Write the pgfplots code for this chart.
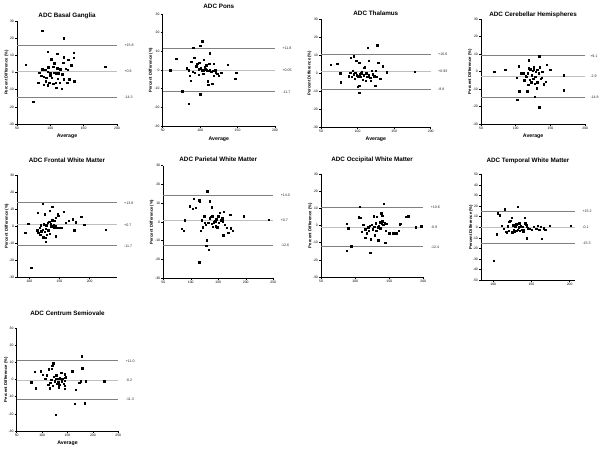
\documentclass[border=0pt]{standalone}
\usepackage{fontspec}
\setmainfont{Liberation Sans}
\usepackage{pgfplots}
\pgfplotsset{compat=1.18}

\pgfplotsset{
  ba/.style={scale only axis, anchor=south west, clip=false,
    axis x line*=bottom, axis y line*=left,
    axis line style={black, line width=0.8pt},
    tick align=outside, major tick length=2pt, tick style={black, line width=0.6pt},
    ymin=-30, ymax=30, ytick={-30,-20,...,30},
    ticklabel style={font=\fontsize{3.4}{4}\selectfont, inner sep=1pt},
    /pgf/number format/assume math mode=true,
    title style={font=\bfseries\fontsize{6.3}{7}\selectfont, at={(0.5,1)}, anchor=center},
    ylabel={Percent Difference (\%)},
    ylabel style={font=\bfseries\fontsize{4.2}{5}\selectfont, at={(axis description cs:-0.105,0.5)}, anchor=center},
    xlabel style={font=\bfseries\fontsize{5.2}{6}\selectfont, at={(axis description cs:0.5,-0.115)}, anchor=center},
  },
  pts/.style={only marks, mark=square*, mark size=0.7pt, black},
  lim/.style={black!50, line width=0.8pt},
  mn/.style={black!25, line width=0.8pt},
}
\tikzset{lbl/.style={font=\fontsize{3.6}{4}\selectfont, anchor=west, xshift=4pt, text=black!85}}

\begin{document}
\begin{tikzpicture}
\path[use as bounding box] (0,0) rectangle (600pt,-448pt);

% ---- row 1 ----
\begin{axis}[ba, at={(17pt,-124pt)}, width=100pt, height=103pt,
  xmin=50, xmax=200, xtick={50,100,150,200},
  title={ADC Basal Ganglia}, title style={yshift=-0.5pt}, xlabel={Average}]
\addplot[lim] coordinates {(50,15.8) (200,15.8)};
\addplot[mn] coordinates {(50,0.6) (200,0.6)};
\addplot[lim] coordinates {(50,-14.3) (200,-14.3)};
\addplot[pts] coordinates {
(88,24.5) (120,20) (63,4.5) (96,12.2) (182,3.3) (74,-17) (135,11.5) (135,8.8) (110,11) (120,9)
(127,7.5) (101,7.8) (106,5.5) (119,5.8) (131,4.3) (97,3) (104,3.5) (110,2.5) (115,2) (123,2.3)
(126,1.5) (88,2) (92,1.5) (96,0.5) (100,-0.5) (105,0) (108,-0.5) (112,-0.5) (118,-1) (83,0)
(86,-2) (90,-2.5) (94,-3) (102,-3) (111,-3.5) (120,-4) (128,-4) (136,-5) (93,-5) (98,-6)
(104,-6.5) (108,-6) (114,-6) (125,-6) (82,-6) (90,-7) (96,-7.5) (109,-9) (117,-9.5) (100,-1.5)};
\node[lbl] at (axis cs:200,15.8) {+15.8};
\node[lbl] at (axis cs:200,0.6) {+0.6};
\node[lbl] at (axis cs:200,-14.3) {-14.3};
\end{axis}

\begin{axis}[ba, at={(162.7pt,-126pt)}, width=112.3pt, height=112pt,
  xmin=50, xmax=200, xtick={50,100,150,200},
  title={ADC Pons}, title style={yshift=1.5pt}, xlabel={Average}]
\addplot[lim] coordinates {(50,11.8) (200,11.8)};
\addplot[mn] coordinates {(50,0.05) (200,0.05)};
\addplot[lim] coordinates {(50,-11.7) (200,-11.7)};
\addplot[pts] coordinates {
(103,15.5) (91,12) (100,13) (68,6) (60,0) (113,9) (137,3) (148,-1.3) (147,-4.8) (76,-11.3)
(85,-18) (100,-13) (111,-8) (116,-7.3) (110,-6) (87,-5.8) (128,-1.6) (88,4.5) (92,6.5) (96,3.5)
(99,4) (105,5.5) (108,2.5) (112,3.5) (118,3.5) (82,1) (85,0) (90,-1) (95,2) (98,0.5)
(101,1) (103,0) (105,-0.5) (107,0.5) (109,0) (111,-0.5) (113,0.3) (115,-1) (117,-0.5) (120,0)
(123,-2) (125,-3) (118,-3) (104,-2) (98,-2.5) (93,-1.5) (86,-3) (121,-1.5) (106,1.5)};
\node[lbl] at (axis cs:200,11.8) {+11.8};
\node[lbl] at (axis cs:200,0.05) {+0.05};
\node[lbl] at (axis cs:200,-11.7) {-11.7};
\end{axis}

\begin{axis}[ba, at={(321pt,-127.3pt)}, width=109.7pt, height=108pt,
  xmin=50, xmax=200, xtick={50,100,150,200},
  title={ADC Thalamus}, title style={yshift=0.5pt}, xlabel={Average}]
\addplot[lim] coordinates {(50,10.6) (200,10.6)};
\addplot[mn] coordinates {(50,0.93) (200,0.93)};
\addplot[lim] coordinates {(50,-8.8) (200,-8.8)};
\addplot[pts] coordinates {
(127,15.7) (114,14.2) (63,4.8) (72,5.5) (91,8.6) (95,9.4) (98,7) (102,6) (115,7) (128,6)
(134,4) (139.5,0.6) (178,0.9) (76,0) (77,-5) (124,-6.8) (102,-7) (100,-7.4) (102,-10.8) (131,-3)
(88,-1.5) (90,0.5) (93,1.5) (95,-0.5) (97,0.5) (99,-1) (101,-1.5) (103,-0.5) (104,-2) (106,1)
(108,3) (110,3.5) (112,0) (113,-2) (115,-1) (117,-2.5) (119,1.5) (121,-0.5) (123,-1.5) (125,1.5)
(126,-2) (92,-2) (96,-3) (107,-3.5) (111,-4) (118,-4) (108,-1) (105,0)};
\node[lbl] at (axis cs:200,10.6) {+10.6};
\node[lbl] at (axis cs:200,0.93) {+0.93};
\node[lbl] at (axis cs:200,-8.8) {-8.8};
\end{axis}

\begin{axis}[ba, at={(481pt,-124pt)}, width=104.3pt, height=104.7pt,
  xmin=50, xmax=200, xtick={50,100,150,200},
  title={ADC Cerebellar Hemispheres}, title style={yshift=-2pt}, xlabel={Average}]
\addplot[lim] coordinates {(50,9.1) (200,9.1)};
\addplot[mn] coordinates {(50,-2.9) (200,-2.9)};
\addplot[lim] coordinates {(50,-14.8) (200,-14.8)};
\addplot[pts] coordinates {
(69,0) (85,1.2) (133.7,8.8) (119,6.5) (144.7,4) (149.5,1.2) (169,-2.1) (168.7,-10.6) (105,-11.2) (116.7,-11.2)
(127.6,-14.2) (102,-16) (133.7,-20.4) (140,-7.3) (143,-5.6) (127.6,-7) (130,-9.4) (104.5,3.5) (104.5,2.7) (107,-0.8)
(110.5,-0.8) (101,-3.3) (114,-2.5) (117,-1) (119,2) (121,1.5) (123,-2) (124,0.5) (126,1) (128,-3)
(129,0) (131,1) (133,-1) (134,2.5) (136,-4) (137,-3.5) (138,0) (120,-4.5) (122,-6) (125,-4)
(118,-7.5) (112,-5) (126,2.5) (131,-6) (116,-3)};
\node[lbl, xshift=-2.5pt] at (axis cs:200,9.1) {+9.1};
\node[lbl, xshift=-2.5pt] at (axis cs:200,-2.9) {-2.9};
\node[lbl, xshift=-2.5pt] at (axis cs:200,-14.8) {-14.8};
\end{axis}

% ---- row 2 ----
\begin{axis}[ba, at={(17.3pt,-277pt)}, width=99.4pt, height=102pt,
  xmin=80, xmax=245, xtick={100,150,200},
  title={ADC Frontal White Matter}, title style={yshift=8.5pt}]
\addplot[lim] coordinates {(80,13.6) (245,13.6)};
\addplot[mn] coordinates {(80,0.7) (245,0.7)};
\addplot[lim] coordinates {(80,-11.7) (245,-11.7)};
\addplot[pts] coordinates {
(103,-24.7) (93,-4.1) (98,1.2) (122.6,13.2) (137.6,11.3) (139,11.3) (133.7,9) (114,7.8) (125,6.9) (147,6.9)
(143.6,4.9) (172,4.1) (186,5.5) (176.5,2.2) (157,8.4) (174.6,-2.4) (191,0.6) (226.5,-2) (143.6,-5.9) (127.6,-9.2)
(123,-6.5) (146,-1) (150,-1) (135,1.2) (113,-2.5) (115,-4) (117,-1) (119,0.5) (120,-3) (122,-2)
(124,1) (125,-3.5) (127,-1.5) (128,0.5) (130,2) (131,-2.5) (133,2.5) (134,-4.5) (136,0) (138,3.5)
(140,0.5) (141,-1) (142,3) (144,0) (148,6) (153,-1) (160,2) (165,3) (118,-5) (126,-7)
(112,-2) (129,-5)};
\node[lbl] at (axis cs:245,13.6) {+13.6};
\node[lbl] at (axis cs:245,0.7) {+0.7};
\node[lbl] at (axis cs:245,-11.7) {-11.7};
\end{axis}

\begin{axis}[ba, at={(163.3pt,-278.3pt)}, width=110pt, height=112.6pt,
  xmin=50, xmax=250, xtick={50,100,150,200,250},
  title={ADC Parietal White Matter}, title style={yshift=0pt}]
\addplot[lim] coordinates {(50,14.0) (250,14.0)};
\addplot[mn] coordinates {(50,0.7) (250,0.7)};
\addplot[lim] coordinates {(50,-12.6) (250,-12.6)};
\addplot[pts] coordinates {
(129.7,16.4) (105.5,12.5) (115,11.6) (116,10.7) (134.5,11) (98,8.4) (103,7.1) (108.5,7.5) (137.6,7.9) (89,0.9)
(83,-3.6) (87,-4.6) (117.6,-4.5) (122,-2.7) (128.5,-9.8) (128,-12.5) (133,-14.8) (115,-21.4) (196,3.2) (242,1.3)
(172,4) (171,3.8) (160,5.4) (153,5) (159,-7.1) (168,-5.7) (173,-3.2) (176,-4.5) (145,-2.3) (148,-2.7)
(139,3) (136,2.7) (142,0) (144,0.5) (151,-0.4) (154,0.9) (124.6,3.2) (125.5,-0.4) (131.5,-0.4) (134.5,2.1)
(138,-1) (140,-2.5) (157,2) (162,-1.5) (120,1) (127,-1.5) (146,1.5) (150,3) (158,0.5) (165,-3)};
\node[lbl] at (axis cs:250,14.0) {+14.0};
\node[lbl] at (axis cs:250,0.7) {+0.7};
\node[lbl] at (axis cs:250,-12.6) {-12.6};
\end{axis}

\begin{axis}[ba, at={(321pt,-277pt)}, width=102.3pt, height=102.7pt,
  xmin=50, xmax=200, xtick={50,100,150,200},
  title={ADC Occipital White Matter}, title style={yshift=8.5pt}]
\addplot[lim] coordinates {(50,10.6) (200,10.6)};
\addplot[mn] coordinates {(50,-0.9) (200,-0.9)};
\addplot[lim] coordinates {(50,-12.4) (200,-12.4)};
\addplot[pts] coordinates {
(106.4,11.1) (142,12.7) (87.7,1) (90,-1.6) (94,-11.9) (87.7,-14.8) (122,-15.8) (144,-9.9) (134,-8.4) (123,-8)
(114.7,-7) (117,-4.5) (129,-5.5) (175,5.1) (177.6,5.6) (189,-1) (197,-0.4) (165,0.8) (166,1.2) (164,-3.1)
(160,-4.5) (156,-4.5) (150,-4.5) (146,1) (138,7.2) (140,5.8) (132,5.3) (127,5.5) (105,4.9) (108,4.7)
(112,0.5) (115,-2) (119,-1) (121,0) (124,0.5) (126,-2) (128,-0.5) (130,1.5) (133,-1) (135,0)
(136,2) (137,-1.5) (139,1) (140,2.5) (141,0.5) (143,1.5) (145,-3) (110,-3.5) (120,-3) (131,-3)};
\node[lbl] at (axis cs:200,10.6) {+10.6};
\node[lbl] at (axis cs:200,-0.9) {-0.9};
\node[lbl] at (axis cs:200,-12.4) {-12.4};
\end{axis}

\begin{axis}[ba, at={(481pt,-280.3pt)}, width=94pt, height=106pt,
  xmin=84, xmax=207, xtick={100,150,200},
  ymin=-50, ymax=50, ytick={-50,-40,...,50},
  title={ADC Temporal White Matter}, title style={yshift=7.5pt}]
\addplot[lim] coordinates {(84,15.2) (207,15.2)};
\addplot[mn] coordinates {(84,-0.1) (207,-0.1)};
\addplot[lim] coordinates {(84,-15.3) (207,-15.3)};
\addplot[pts] coordinates {
(100.9,-31.4) (105.6,13.2) (108.7,11.6) (115,17) (132,19.2) (104.3,-6.6) (144,-10.4) (163.5,-11) (174,1.3) (201,1.3)
(111,1.5) (114,-1.5) (116,-4) (118,-4.5) (119,1) (121,5.5) (122,6.5) (124,9) (126,2) (127,-2)
(128,-3.5) (129,0.5) (130,3) (131,-3) (132,-2.5) (133,0) (134,4) (135,-3) (136,1) (137,-2)
(138,0.5) (140,-2.5) (141,9) (142,4) (143,2.5) (144,1) (145,-1) (147,-1.5) (150,-2) (153,0.5)
(156,-1.5) (158,1.5) (160,-2) (162,0.5) (166,-1) (168,-2) (120,-3) (125,-4.5) (139,-4)};
\node[lbl] at (axis cs:207,15.2) {+15.2};
\node[lbl] at (axis cs:207,-0.1) {-0.1};
\node[lbl] at (axis cs:207,-15.3) {-15.3};
\end{axis}

% ---- row 3 ----
\begin{axis}[ba, at={(16.7pt,-431pt)}, width=101.6pt, height=102.7pt,
  xmin=50, xmax=250, xtick={50,100,150,200,250},
  title={ADC Centrum Semiovale}, title style={yshift=9pt}, xlabel={Average}]
\addplot[lim] coordinates {(50,11.0) (250,11.0)};
\addplot[mn] coordinates {(50,-0.2) (250,-0.2)};
\addplot[lim] coordinates {(50,-11.3) (250,-11.3)};
\addplot[pts] coordinates {
(177.5,13.6) (179,6.8) (122,9.7) (120,8) (119,6.4) (113.4,6) (97.7,4.9) (85.3,4.5) (101,2.9) (108.8,2.5)
(78.8,-1.4) (87,-4.9) (123,1.9) (128,2.5) (137.6,4.1) (144,3.3) (159,4.9) (166,-5.7) (164.7,-14.2) (184,-13.8)
(127,-20.5) (185.6,-0.8) (222,-1) (173,-1.8) (176,-1) (144.5,1) (146,1.5) (142.5,-2.3) (144,-3.7) (144.5,-5.3)
(115,-4.9) (116,-1.8) (118,0) (131.5,-1.4) (134,-2.9) (137.6,0.6) (125,-1) (127,0.5) (129,-2.5) (132,0.5)
(135,1) (139,-1) (140,0.5) (112,-3) (106,0.5) (121,-3.5) (133,-4.5) (145,-0.5)};
\node[lbl] at (axis cs:250,11.0) {+11.0};
\node[lbl] at (axis cs:250,-0.2) {-0.2};
\node[lbl] at (axis cs:250,-11.3) {-11.3};
\end{axis}
\end{tikzpicture}
\end{document}
